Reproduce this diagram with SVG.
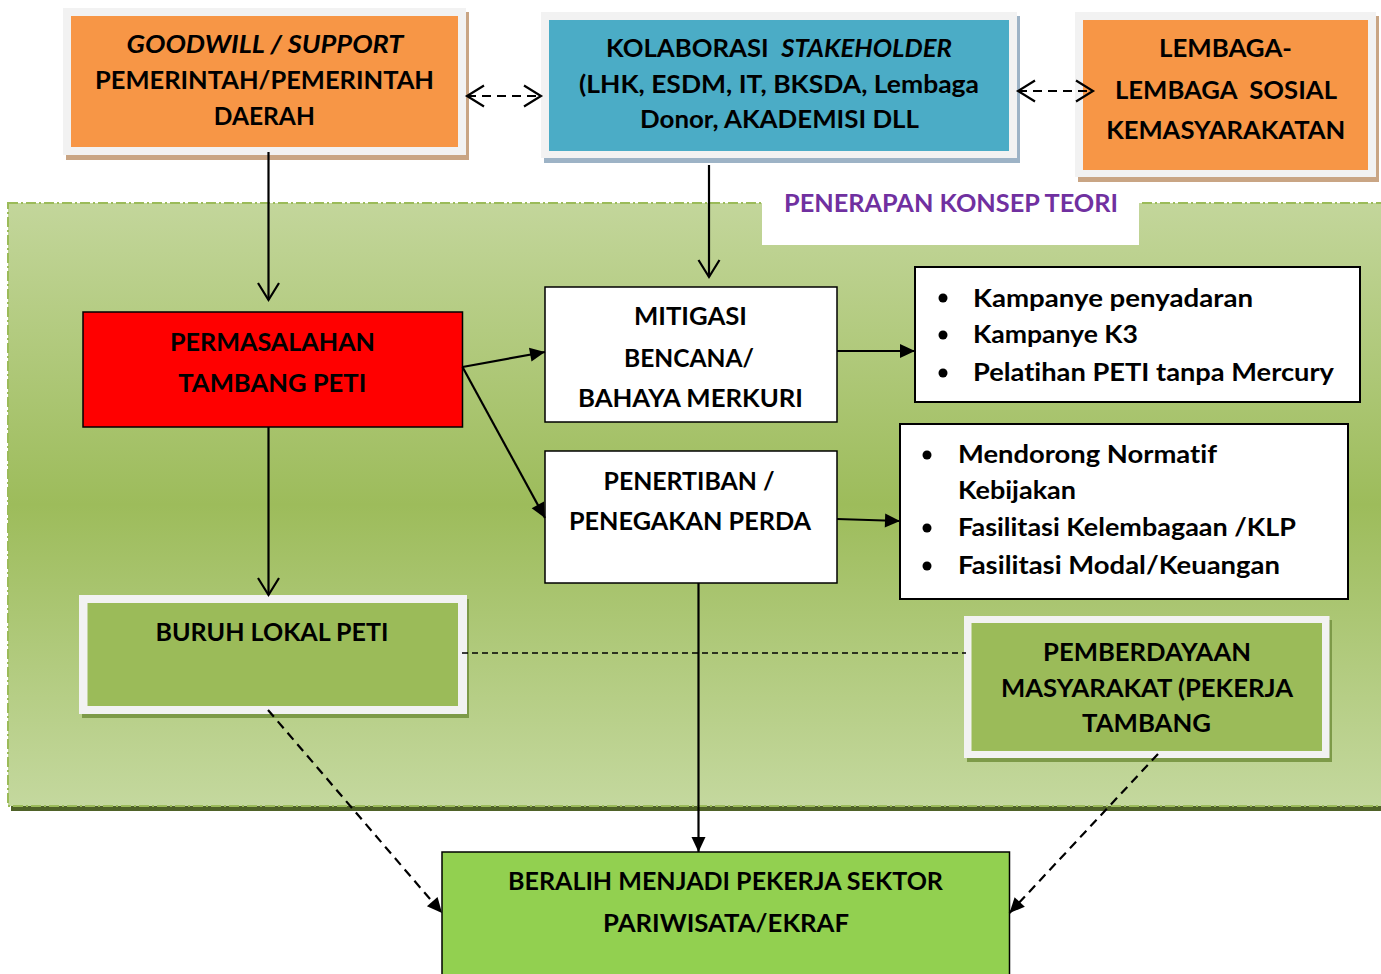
<svg xmlns="http://www.w3.org/2000/svg" width="1381" height="974" viewBox="0 0 1381 974">
<defs>
<style>
.t{font-family:Lato,"Open Sans","Liberation Sans",sans-serif;font-weight:bold;font-size:25px;fill:#000;font-variant-ligatures:none;}
.m{text-anchor:middle;}
.i{font-style:italic;}
.ln{stroke:#000;stroke-width:2.2;fill:none;}
.dash{stroke-dasharray:9 6;}
.box{fill:#fff;stroke:#000;stroke-width:1.5;}
.frame{fill:#f2f2f2;}
</style>
<linearGradient id="gbg" x1="0" y1="0" x2="0" y2="1">
<stop offset="0" stop-color="#c3d69b"/>
<stop offset="0.5" stop-color="#9dbc5b"/>
<stop offset="1" stop-color="#c4d89e"/>
</linearGradient>
<marker id="open" markerUnits="userSpaceOnUse" markerWidth="24" markerHeight="26" refX="19" refY="12.5" orient="auto-start-reverse" overflow="visible">
<path d="M2,2 L19,12.5 L2,23" fill="none" stroke="#000" stroke-width="2.2"/>
</marker>
<marker id="fill" markerUnits="userSpaceOnUse" markerWidth="16" markerHeight="14" refX="15" refY="7" orient="auto" overflow="visible">
<path d="M0,0 L15,7 L0,14 z" fill="#000"/>
</marker>
</defs>
<rect width="1381" height="974" fill="#fff"/>

<g id="container">
<rect x="11" y="207" width="1380" height="604" fill="#4f6228"/>
<rect x="8" y="203" width="1380" height="603" fill="url(#gbg)" stroke="#9bbb59" stroke-width="2" stroke-dasharray="10 3 2 3"/>
<rect x="762" y="185" width="377" height="60" fill="#fff"/>
<text class="t m" x="951" y="212" style="fill:#7030a0" textLength="334" lengthAdjust="spacingAndGlyphs">PENERAPAN KONSEP TEORI</text>
</g>

<g id="goodwill">
<rect x="66" y="12" width="403" height="148" fill="#c9a584"/>
<rect class="frame" x="63" y="8" width="403" height="147"/>
<rect x="71" y="16" width="387" height="131" fill="#f79646"/>
<text class="t m i" x="265" y="53" textLength="277" lengthAdjust="spacingAndGlyphs">GOODWILL / SUPPORT</text>
<text class="t m" x="264.5" y="89" textLength="339" lengthAdjust="spacingAndGlyphs">PEMERINTAH/PEMERINTAH</text>
<text class="t m" x="264.3" y="125" textLength="101" lengthAdjust="spacingAndGlyphs">DAERAH</text>
</g>

<g id="kolaborasi">
<rect x="544" y="16" width="476" height="147" fill="#9db3c6"/>
<rect class="frame" x="541" y="12" width="476" height="146"/>
<rect x="549" y="20" width="460" height="131" fill="#4bacc6"/>
<text class="t m" x="779" y="57" xml:space="preserve" textLength="346" lengthAdjust="spacingAndGlyphs">KOLABORASI  <tspan class="i">STAKEHOLDER</tspan></text>
<text class="t m" x="779" y="93" textLength="400" lengthAdjust="spacingAndGlyphs">(LHK, ESDM, IT, BKSDA, Lembaga</text>
<text class="t m" x="779.5" y="128" textLength="279" lengthAdjust="spacingAndGlyphs">Donor, AKADEMISI DLL</text>
</g>

<g id="lembaga">
<rect x="1078" y="16" width="301" height="166" fill="#c9a584"/>
<rect class="frame" x="1075" y="12" width="301" height="165"/>
<rect x="1083" y="20" width="285" height="150" fill="#f79646"/>
<text class="t m" x="1225.5" y="57" textLength="133" lengthAdjust="spacingAndGlyphs">LEMBAGA-</text>
<text class="t m" x="1226" y="99" xml:space="preserve" textLength="222" lengthAdjust="spacingAndGlyphs">LEMBAGA  SOSIAL</text>
<text class="t m" x="1225.7" y="139" textLength="239" lengthAdjust="spacingAndGlyphs">KEMASYARAKATAN</text>
</g>

<g id="permasalahan">
<rect x="83" y="312" width="379.5" height="115" fill="#ff0000" stroke="#000" stroke-width="1.5"/>
<text class="t m" x="272.5" y="351" textLength="205" lengthAdjust="spacingAndGlyphs">PERMASALAHAN</text>
<text class="t m" x="272.3" y="392" textLength="188" lengthAdjust="spacingAndGlyphs">TAMBANG PETI</text>
</g>

<g id="mitigasi">
<rect class="box" x="545" y="287" width="292" height="135"/>
<text class="t m" x="690.5" y="325" textLength="113" lengthAdjust="spacingAndGlyphs">MITIGASI</text>
<text class="t m" x="689" y="367" textLength="130" lengthAdjust="spacingAndGlyphs">BENCANA/</text>
<text class="t m" x="690.5" y="407" textLength="225" lengthAdjust="spacingAndGlyphs">BAHAYA MERKURI</text>
</g>

<g id="penertiban">
<rect class="box" x="545" y="451" width="292" height="132"/>
<text class="t m" x="689" y="490" textLength="171" lengthAdjust="spacingAndGlyphs">PENERTIBAN /</text>
<text class="t m" x="690" y="530" textLength="242" lengthAdjust="spacingAndGlyphs">PENEGAKAN PERDA</text>
</g>

<g id="kampanye">
<rect x="915" y="267" width="445" height="135" fill="#fff" stroke="#000" stroke-width="2"/>
<circle cx="943" cy="298" r="4.5"/>
<circle cx="943" cy="335" r="4.5"/>
<circle cx="943" cy="373" r="4.5"/>
<text class="t" x="973" y="307" textLength="280" lengthAdjust="spacingAndGlyphs">Kampanye penyadaran</text>
<text class="t" x="973" y="343" textLength="165" lengthAdjust="spacingAndGlyphs">Kampanye K3</text>
<text class="t" x="973" y="381" textLength="361" lengthAdjust="spacingAndGlyphs">Pelatihan PETI tanpa Mercury</text>
</g>

<g id="mendorong">
<rect x="900" y="424" width="448" height="175" fill="#fff" stroke="#000" stroke-width="2"/>
<circle cx="927" cy="455" r="4.5"/>
<circle cx="927" cy="528" r="4.5"/>
<circle cx="927" cy="566" r="4.5"/>
<text class="t" x="958" y="463" textLength="259" lengthAdjust="spacingAndGlyphs">Mendorong Normatif</text>
<text class="t" x="958" y="499" textLength="118" lengthAdjust="spacingAndGlyphs">Kebijakan</text>
<text class="t" x="958" y="536" textLength="338" lengthAdjust="spacingAndGlyphs">Fasilitasi Kelembagaan /KLP</text>
<text class="t" x="958" y="574" textLength="322" lengthAdjust="spacingAndGlyphs">Fasilitasi Modal/Keuangan</text>
</g>

<g id="buruh">
<rect x="82" y="599" width="387" height="119" fill="#7d9a48"/>
<rect class="frame" x="79" y="595" width="388" height="119"/>
<rect x="87.5" y="603" width="370.5" height="103" fill="#9bbb59"/>
<text class="t m" x="272" y="641" textLength="233" lengthAdjust="spacingAndGlyphs">BURUH LOKAL PETI</text>
</g>

<g id="pemberdayaan">
<rect x="967" y="620" width="365" height="142" fill="#7d9a48"/>
<rect class="frame" x="964" y="616" width="365.5" height="142"/>
<rect x="971.5" y="623" width="350.5" height="128" fill="#9bbb59"/>
<text class="t m" x="1147" y="661" textLength="208" lengthAdjust="spacingAndGlyphs">PEMBERDAYAAN</text>
<text class="t m" x="1147" y="697" textLength="292" lengthAdjust="spacingAndGlyphs">MASYARAKAT (PEKERJA</text>
<text class="t m" x="1146.5" y="732" textLength="129" lengthAdjust="spacingAndGlyphs">TAMBANG</text>
</g>

<g id="beralih">
<rect x="442" y="852" width="567.5" height="130" fill="#92d050" stroke="#000" stroke-width="1.5"/>
<text class="t m" x="725.5" y="890" textLength="435" lengthAdjust="spacingAndGlyphs">BERALIH MENJADI PEKERJA SEKTOR</text>
<text class="t m" x="726" y="932" textLength="246" lengthAdjust="spacingAndGlyphs">PARIWISATA/EKRAF</text>
</g>

<g id="connectors">
<line class="ln dash" x1="467" y1="96" x2="541" y2="96" marker-start="url(#open)" marker-end="url(#open)"/>
<line class="ln dash" x1="1018" y1="91" x2="1093" y2="91" marker-start="url(#open)" marker-end="url(#open)"/>
<line class="ln" x1="268.5" y1="152" x2="268.5" y2="300" marker-end="url(#open)"/>
<line class="ln" x1="709" y1="165" x2="709" y2="277" marker-end="url(#open)"/>
<line class="ln" x1="268.5" y1="427" x2="268.5" y2="595" marker-end="url(#open)"/>
<line class="ln" x1="462.5" y1="367" x2="545" y2="352" marker-end="url(#fill)"/>
<line class="ln" x1="462.5" y1="367" x2="545" y2="518" marker-end="url(#fill)"/>
<line class="ln" x1="837" y1="351" x2="915" y2="351" marker-end="url(#fill)"/>
<line class="ln" x1="837" y1="519" x2="900" y2="521" marker-end="url(#fill)"/>
<line class="ln" x1="698.5" y1="583" x2="698.5" y2="852" marker-end="url(#fill)"/>
<line class="ln dash" x1="268" y1="710" x2="442" y2="913" marker-end="url(#fill)"/>
<line class="ln dash" x1="1158" y1="754" x2="1009.5" y2="913" marker-end="url(#fill)"/>
<line x1="462" y1="653" x2="966" y2="653" stroke="#000" stroke-width="1.5" stroke-dasharray="6 4"/>
</g>
</svg>
